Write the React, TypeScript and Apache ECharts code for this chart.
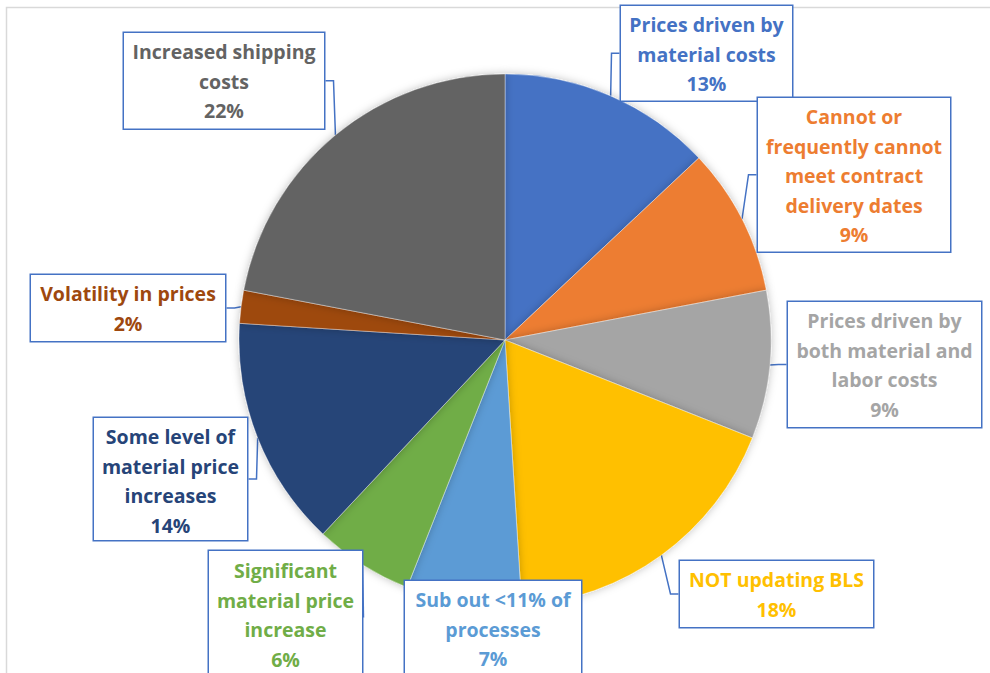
import React, { useEffect, useRef } from "react";
import * as echarts from "echarts";

// ---- data ----
const categories: string[] = [
  "Prices driven by\nmaterial costs",
  "Cannot or\nfrequently cannot\nmeet contract\ndelivery dates",
  "Prices driven by\nboth material and\nlabor costs",
  "NOT updating BLS",
  "Sub out <11% of\nprocesses",
  "Significant\nmaterial price\nincrease",
  "Some level of\nmaterial price\nincreases",
  "Volatility in prices",
  "Increased shipping\ncosts",
];
const values: number[] = [13, 9, 9, 18, 7, 6, 14, 2, 22];

// ---- styles / layout ----
const colors: string[] = [
  "#4472C4", "#ED7D31", "#A5A5A5", "#FFC000", "#5B9BD5",
  "#70AD47", "#264478", "#9E480E", "#636363",
];
// callout boxes: left, top, width, padTop, padBottom
const boxes: number[][] = [
  [620, 6, 173, 4, 2],
  [757, 98, 194, 4, 2],
  [787, 302, 195, 4, 3],
  [679, 561, 195, 4, 3],
  [404, 581, 178, 4, 12],
  [208, 551, 155, 5, 10],
  [93, 418, 155, 4, 0],
  [30, 275, 196, 4, 3],
  [123, 33, 202, 4, 3],
];
const LH = 29.5;
const FONT = "'Open Sans', 'Noto Sans', sans-serif";

export default function App() {
  const ref = useRef<HTMLDivElement>(null);
  useEffect(() => {
    if (!ref.current) return;
    const chart = echarts.init(ref.current, undefined, { renderer: "svg" });
    const data = categories.map((name, i) => ({
      name,
      value: values[i],
      itemStyle: { color: colors[i] },
      label: {
        color: colors[i],
        width: boxes[i][2] - 10,
        padding: [boxes[i][3], 4, boxes[i][4], 4],
      },
    }));
    chart.setOption({
      animation: false,
      backgroundColor: "#ffffff",
      graphic: [
        {
          type: "rect",
          z: -10,
          shape: { x: 6.5, y: 7.5, width: 1000, height: 700 },
          style: { fill: "none", stroke: "#D9D9D9", lineWidth: 1.5 },
        },
      ],
      series: [
        {
          type: "pie",
          center: [505, 340],
          radius: 266,
          startAngle: 90,
          clockwise: true,
          avoidLabelOverlap: false,
          silent: true,
          itemStyle: {
            borderColor: "rgba(255,255,255,0.6)",
            borderWidth: 0.6,
            shadowBlur: 8,
            shadowColor: "rgba(0,0,0,0.25)",
          },
          label: {
            show: true,
            position: "outside",
            formatter: (p: any) => `${p.name}\n${p.value}%`,
            fontFamily: FONT,
            fontWeight: "bold",
            fontSize: 19.5,
            lineHeight: LH,
            align: "center",
            backgroundColor: "#ffffff",
            borderColor: "#4472C4",
            borderWidth: 1.5,
          },
          labelLine: {
            show: true,
            length: 8,
            length2: 8,
            smooth: false,
            lineStyle: { color: "#4472C4", width: 1.5 },
          },
          labelLayout: (params: any) => {
            const b = boxes[params.dataIndex];
            return {
              x: b[0] + b[2] / 2,
              y: b[1],
              align: "center",
              verticalAlign: "top",
            };
          },
          data,
        },
      ],
    });
    return () => chart.dispose();
  }, []);
  return (
    <div
      ref={ref}
      style={{ position: "absolute", left: 0, top: 0, width: 990, height: 673 }}
    />
  );
}
